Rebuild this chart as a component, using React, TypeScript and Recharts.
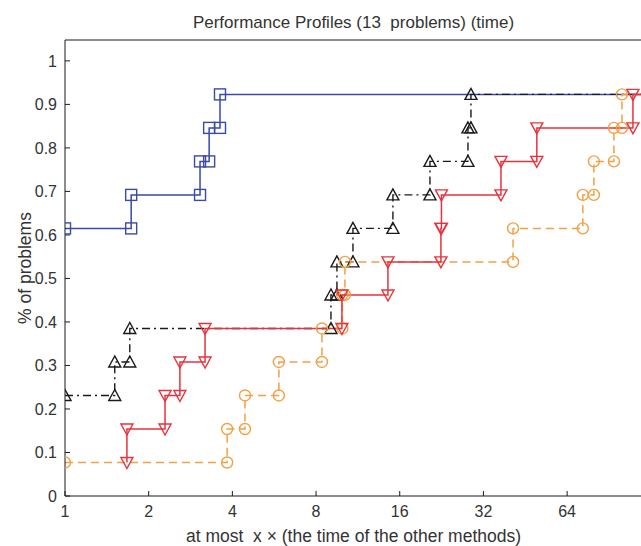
import React from 'react';
import { LineChart, Line, XAxis, YAxis, Label } from 'recharts';

// stairs vertices (ratio, fraction of problems)
const blueX = [1, 1.73, 1.73, 3.06, 3.06, 3.3, 3.3, 3.61, 3.61, 119];
const blueY = [0.615, 0.615, 0.692, 0.692, 0.769, 0.769, 0.846, 0.846, 0.923, 0.923];

const blackX = [1, 1.51, 1.51, 1.71, 1.71, 9.05, 9.05, 9.51, 9.51, 10.86, 10.86, 15.12, 15.12, 20.55, 20.55, 28.15, 28.15, 28.86, 28.86, 119];
const blackY = [0.231, 0.231, 0.308, 0.308, 0.385, 0.385, 0.462, 0.462, 0.538, 0.538, 0.615, 0.615, 0.692, 0.692, 0.769, 0.769, 0.846, 0.846, 0.923, 0.923];

const redX = [1.67, 1.67, 2.29, 2.29, 2.59, 2.59, 3.19, 3.19, 9.91, 9.91, 14.51, 14.51, 22.5, 22.5, 22.6, 22.6, 37, 37, 49.8, 49.8, 110.4, 110.4, 119];
const redY = [0.077, 0.154, 0.154, 0.231, 0.231, 0.308, 0.308, 0.385, 0.385, 0.462, 0.462, 0.538, 0.538, 0.615, 0.615, 0.692, 0.692, 0.769, 0.769, 0.846, 0.846, 0.923, 0.923];

const orangeX = [1, 3.83, 3.83, 4.44, 4.44, 5.88, 5.88, 8.4, 8.4, 9.95, 9.95, 10.16, 10.16, 40.9, 40.9, 72.9, 72.9, 79.9, 79.9, 94.3, 94.3, 100.8, 100.8, 119];
const orangeY = [0.077, 0.077, 0.154, 0.154, 0.231, 0.231, 0.308, 0.308, 0.385, 0.385, 0.462, 0.462, 0.538, 0.538, 0.615, 0.615, 0.692, 0.692, 0.769, 0.769, 0.846, 0.846, 0.923, 0.923];

const xTicks = [1, 2, 4, 8, 16, 32, 64];
const yTicks = [0, 0.1, 0.2, 0.3, 0.4, 0.5, 0.6, 0.7, 0.8, 0.9, 1];

const toRows = (xs: number[], ys: number[]) => xs.map((x, i) => ({ x, y: ys[i] }));

const FONT = '"Liberation Sans", Arial, sans-serif';
const BLUE = '#3a4aa6';
const BLACK = '#1a1a1a';
const RED = '#e8333d';
const ORANGE = '#f2a043';

type Kind = 'square' | 'up' | 'down' | 'circle';

const makeDot = (kind: Kind, color: string, last: number) => (props: any) => {
  const { cx, cy, index } = props;
  const key = `m-${kind}-${index}`;
  if (index === last || cx == null || cy == null) return <g key={key} />;
  const common = { fill: 'none', stroke: color, strokeWidth: 1.4 };
  if (kind === 'square') return <rect key={key} x={cx - 5.5} y={cy - 5.5} width={11} height={11} {...common} />;
  if (kind === 'circle') return <circle key={key} cx={cx} cy={cy} r={5.5} {...common} />;
  if (kind === 'up') return <polygon key={key} points={`${cx},${cy - 6} ${cx - 6},${cy + 5} ${cx + 6},${cy + 5}`} {...common} />;
  return <polygon key={key} points={`${cx},${cy + 6} ${cx - 6},${cy - 5} ${cx + 6},${cy - 5}`} {...common} />;
};

const tickStyle = { fontSize: 16, fill: '#333', fontFamily: FONT };
const labelStyle = { fontSize: 17.5, fill: '#333', fontFamily: FONT };

export default function App() {
  return (
    <div style={{ position: 'absolute', left: 0, top: 0, width: 641, height: 546, overflow: 'hidden', background: '#fff' }}>
      <LineChart width={643} height={546} margin={{ top: 39, right: 0, bottom: 20, left: 25 }}>
        <XAxis
          dataKey="x"
          type="number"
          scale="log"
          domain={[1, 119]}
          allowDataOverflow
          ticks={xTicks}
          interval={0}
          height={30}
          tickSize={-5}
          tickMargin={15}
          stroke={BLACK}
          tick={tickStyle}
        >
          <Label
            value={'at most\u00A0 x × (the time of the other methods)'}
            position="insideBottom"
            offset={-16}
            style={labelStyle}
          />
        </XAxis>
        <XAxis
          xAxisId="t"
          orientation="top"
          dataKey="x"
          type="number"
          scale="log"
          domain={[1, 119]}
          allowDataOverflow
          ticks={xTicks}
          interval={0}
          height={1}
          tickSize={-5}
          tick={false}
          stroke={BLACK}
        >
          <Label
            value={'Performance Profiles (13\u00A0 problems) (time)'}
            position="top"
            offset={11}
            style={{ ...labelStyle, fontSize: 17 }}
          />
        </XAxis>
        <YAxis
          type="number"
          domain={[0, 1.048]}
          allowDataOverflow
          ticks={yTicks}
          interval={0}
          width={40}
          tickSize={-5}
          tickMargin={13}
          tickFormatter={(v: number) => String(v)}
          stroke={BLACK}
          tick={tickStyle}
        >
          <Label
            value="% of problems"
            angle={-90}
            position="insideLeft"
            offset={0}
            textAnchor="middle"
            style={labelStyle}
          />
        </YAxis>
        <YAxis
          yAxisId="r"
          orientation="right"
          type="number"
          domain={[0, 1.048]}
          allowDataOverflow
          ticks={yTicks}
          interval={0}
          width={1}
          tickSize={-5}
          tick={false}
          stroke={BLACK}
        />
        {/* carrier so the top / right frame axes get drawn */}
        <Line
          xAxisId="t"
          yAxisId="r"
          data={toRows(blueX, blueY)}
          dataKey="y"
          stroke="none"
          dot={false}
          activeDot={false}
          legendType="none"
          isAnimationActive={false}
        />
        <Line
          data={toRows(blueX, blueY)}
          dataKey="y"
          type="linear"
          stroke={BLUE}
          strokeWidth={1.5}
          dot={makeDot('square', BLUE, blueX.length - 1)}
          activeDot={false}
          isAnimationActive={false}
        />
        <Line
          data={toRows(blackX, blackY)}
          dataKey="y"
          type="linear"
          stroke={BLACK}
          strokeWidth={1.4}
          strokeDasharray="8 4 2 4"
          dot={makeDot('up', BLACK, blackX.length - 1)}
          activeDot={false}
          isAnimationActive={false}
        />
        <Line
          data={toRows(orangeX, orangeY)}
          dataKey="y"
          type="linear"
          stroke={ORANGE}
          strokeWidth={1.5}
          strokeDasharray="8 5"
          dot={makeDot('circle', ORANGE, orangeX.length - 1)}
          activeDot={false}
          isAnimationActive={false}
        />
        <Line
          data={toRows(redX, redY)}
          dataKey="y"
          type="linear"
          stroke={RED}
          strokeWidth={1.5}
          dot={makeDot('down', RED, redX.length - 1)}
          activeDot={false}
          isAnimationActive={false}
        />
      </LineChart>
    </div>
  );
}
